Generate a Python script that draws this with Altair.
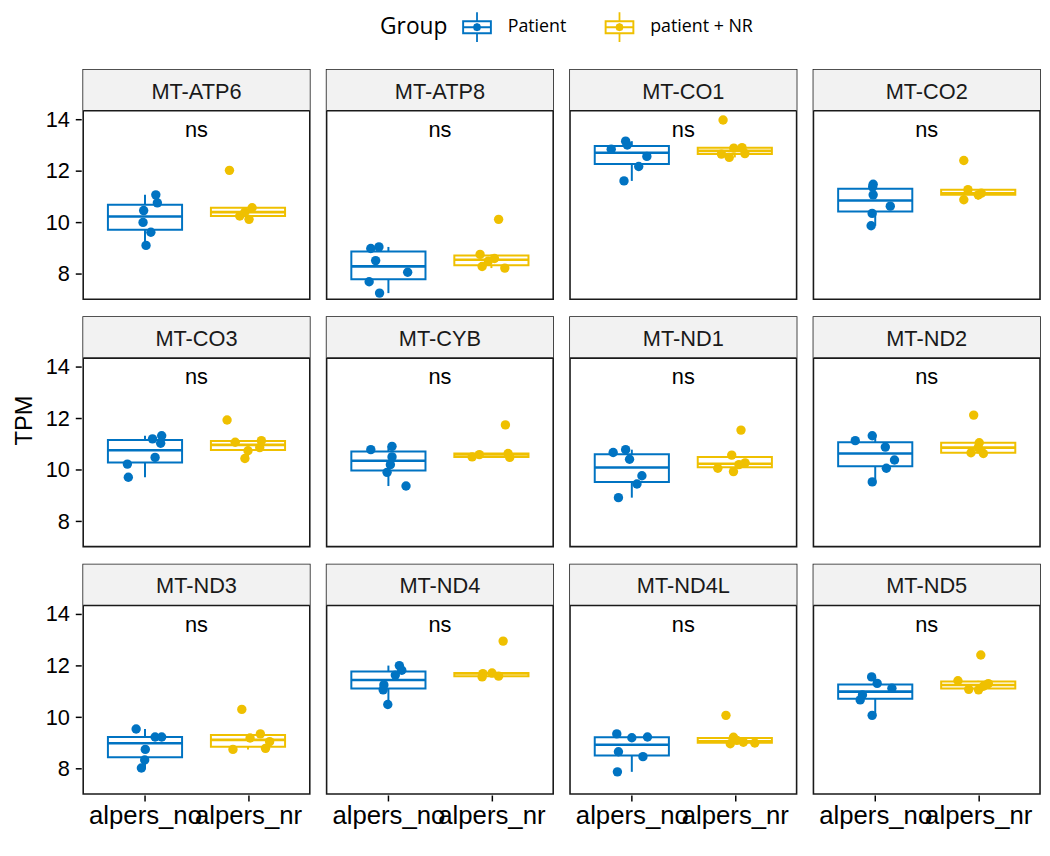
import altair as alt
import pandas as pd

# ---------------- data ----------------
GENES = ["MT-ATP6", "MT-ATP8", "MT-CO1", "MT-CO2",
         "MT-CO3", "MT-CYB", "MT-ND1", "MT-ND2",
         "MT-ND3", "MT-ND4", "MT-ND4L", "MT-ND5"]
GROUPS = ["alpers_no", "alpers_nr"]
LEGEND_LABELS = ["Patient", "patient + NR"]
COLORS = ["#0073C2", "#EFC000"]
SIGNIF = ["ns", "ns", "ns", "ns", "ns", "ns", "ns", "ns", "ns", "ns", "ns", "ns"]

# TPM, group alpers_no (Patient)
NO_TPM = [
    [11.07, 10.76, 10.46, 10.00, 9.62, 9.11],
    [8.99, 9.05, 8.52, 8.07, 7.70, 7.26],
    [13.15, 12.84, 12.56, 12.17, 11.61, 13.00],
    [11.48, 11.38, 11.07, 10.63, 10.35, 9.87],
    [11.32, 11.20, 11.03, 10.48, 10.22, 9.71],
    [10.78, 10.91, 10.50, 10.20, 9.90, 9.37],
    [10.67, 10.78, 10.41, 9.77, 9.45, 8.92],
    [11.13, 11.32, 10.88, 10.38, 10.06, 9.53],
    [9.54, 9.23, 9.23, 8.75, 8.34, 8.03],
    [12.00, 11.82, 11.63, 11.25, 11.06, 10.49],
    [9.35, 9.23, 8.66, 8.47, 7.88, 9.20],
    [11.56, 11.31, 11.12, 10.86, 10.67, 10.07],
]
# horizontal jitter of each point (category units)
NO_JITTER = [
    [0.105, 0.12, -0.013, -0.019, 0.057, 0.01],
    [-0.171, -0.092, -0.124, 0.187, -0.187, -0.086],
    [-0.06, -0.20, 0.146, 0.067, -0.076, -0.044],
    [-0.02, -0.025, -0.02, 0.146, -0.03, -0.04],
    [0.162, 0.073, 0.152, 0.098, -0.171, -0.162],
    [-0.171, 0.035, 0.035, 0.019, -0.013, 0.171],
    [-0.181, -0.06, -0.022, 0.098, 0.05, -0.13],
    [-0.194, -0.029, 0.098, 0.187, 0.108, -0.029],
    [-0.086, 0.098, 0.162, 0.003, -0.003, -0.035],
    [0.106, 0.13, 0.067, -0.044, -0.051, -0.006],
    [-0.146, 0.152, -0.13, 0.108, -0.14, 0.0],
    [-0.035, 0.019, 0.162, -0.124, -0.146, -0.03],
]
# TPM, group alpers_nr (patient + NR)
NR_TPM = [
    [12.02, 10.57, 10.25, 10.12, 10.40],
    [10.12, 8.76, 8.29, 8.23, 8.50, 8.60],
    [13.97, 12.90, 12.65, 12.52, 12.67, 12.88],
    [12.40, 11.27, 10.88, 11.07, 11.13],
    [11.93, 11.07, 11.13, 10.86, 10.44, 10.74],
    [11.74, 10.50, 10.59, 10.63, 10.48],
    [11.54, 10.57, 10.06, 9.93, 10.27, 10.20],
    [12.12, 11.05, 10.63, 10.66, 10.86],
    [10.30, 9.19, 9.35, 8.75, 8.79, 9.05],
    [12.95, 11.69, 11.71, 11.59, 11.56],
    [10.07, 9.22, 8.97, 9.03, 9.00, 9.10],
    [12.41, 11.41, 11.08, 11.06, 11.30, 11.20],
]
NR_JITTER = [
    [-0.18, 0.04, -0.08, 0.01, -0.03],
    [0.07, -0.11, -0.09, 0.13, -0.03, 0.03],
    [-0.114, 0.07, -0.13, -0.054, 0.098, -0.01],
    [-0.14, -0.10, -0.14, 0.0, 0.03],
    [-0.203, -0.124, 0.13, 0.114, -0.03, 0.0],
    [0.136, -0.187, -0.117, 0.162, 0.178],
    [0.06, -0.03, -0.165, -0.013, 0.10, 0.04],
    [-0.044, 0.01, 0.05, -0.07, 0.0],
    [-0.06, 0.02, 0.12, -0.146, 0.17, 0.21],
    [0.114, -0.083, 0.006, 0.07, -0.09],
    [-0.086, -0.013, -0.044, 0.083, 0.194, 0.02],
    [0.025, -0.197, -0.092, 0.003, 0.098, 0.05],
]

rows = []
for gi, gene in enumerate(GENES):
    for k, (vals, jits) in enumerate([(NO_TPM[gi], NO_JITTER[gi]),
                                       (NR_TPM[gi], NR_JITTER[gi])]):
        for v, j in zip(vals, jits):
            rows.append({"gene": gene, "group": GROUPS[k],
                         "label": LEGEND_LABELS[k], "pos": k + 1,
                         "tpm": v, "jit": j, "sig": SIGNIF[gi]})
df = pd.DataFrame(rows)

# ---------------- styling ----------------
FONT = "Liberation Sans"
Y_LO, Y_HI = 7.02, 15.92
STRIP_Y = 14.33
xscale = alt.Scale(domain=[0.4, 2.6], nice=False, zero=False)
yscale = alt.Scale(domain=[Y_LO, Y_HI], nice=False, zero=False)

xaxis = alt.Axis(values=[1, 2], labelExpr="datum.value == 1 ? 'alpers_no' : 'alpers_nr'",
                 title=None, grid=False, domain=False, tickSize=6, tickWidth=1.5,
                 tickColor="black", labelFontSize=26, labelFont=FONT, labelColor="black",
                 labelPadding=2, labelOverlap=False, labelFlush=False)
yaxis = alt.Axis(values=[8, 10, 12, 14], title=None, grid=False, domain=False,
                 tickSize=6, tickWidth=1.5, tickColor="black", labelFontSize=22,
                 labelFont=FONT, labelColor="black", labelPadding=6)


def XF(field):
    return alt.X(field, type="quantitative", scale=xscale, axis=xaxis)


def XD(v):
    return alt.XDatum(v, type="quantitative", scale=xscale, axis=xaxis)


def YF(field):
    return alt.Y(field, type="quantitative", scale=yscale, axis=yaxis)


def YD(v):
    return alt.YDatum(v, type="quantitative", scale=yscale, axis=yaxis)


# box outlines use a separate stroke scale (same colours, reversed domain order so
# that Vega-Lite does not merge it with the colour legend)
stroke_enc = alt.Stroke("label:N",
                        scale=alt.Scale(domain=LEGEND_LABELS[::-1], range=COLORS[::-1]),
                        legend=None)

# legend icon: box outline + median + whiskers + dot (filled path, nonzero rule)
ICON = ("M-1,-0.47H1V0.47H-1Z M-0.87,-0.34V0.34H0.87V-0.34Z "
        "M-0.87,-0.07H0.87V0.07H-0.87Z M-0.06,-1H0.06V-0.47H-0.06Z "
        "M-0.06,0.47H0.06V1H-0.06Z "
        "M0.28,0L0.2,0.2L0,0.28L-0.2,0.2L-0.28,0L-0.2,-0.2L0,-0.28L0.2,-0.2Z")

base = alt.Chart()
per_gene = base.transform_aggregate(n="count()", groupby=["gene", "sig"])

strip = per_gene.mark_rect(fill="#F2F2F2", strokeWidth=0).encode(
    x=XD(0.4), x2=alt.datum(2.6), y=YD(Y_HI), y2=alt.datum(STRIP_Y))
strip_line = per_gene.mark_rule(color="#1a1a1a", strokeWidth=1.6).encode(
    x=XD(0.4), x2=alt.datum(2.6), y=YD(STRIP_Y))
strip_text = per_gene.mark_text(fontSize=22, font=FONT, color="#1a1a1a",
                                baseline="alphabetic").encode(
    x=XD(1.5), y=YD(14.80), text="gene:N")
sig_text = per_gene.mark_text(fontSize=22, font=FONT, color="black",
                              baseline="alphabetic").encode(
    x=XD(1.5), y=YD(13.31), text="sig:N")

stats = (base
         .transform_joinaggregate(q1="q1(tpm)", q3="q3(tpm)", med="median(tpm)",
                                  groupby=["gene", "group"])
         .transform_calculate(lof="datum.q1 - 1.5 * (datum.q3 - datum.q1)",
                              hif="datum.q3 + 1.5 * (datum.q3 - datum.q1)")
         .transform_filter("datum.tpm >= datum.lof && datum.tpm <= datum.hif")
         .transform_aggregate(q1="min(q1)", q3="min(q3)", med="min(med)",
                              lo="min(tpm)", hi="max(tpm)", pos="min(pos)",
                              groupby=["gene", "group", "label"])
         .transform_calculate(xl="datum.pos - 0.36", xr="datum.pos + 0.36"))

whisker = stats.mark_rule(strokeWidth=2).encode(
    x=XF("pos"), y=YF("lo"), y2="hi", stroke=stroke_enc)
box = stats.mark_rect(fill="white", strokeWidth=2).encode(
    x=XF("xl"), x2="xr", y=YF("q1"), y2="q3", stroke=stroke_enc)
median = stats.mark_rule(strokeWidth=2.6).encode(
    x=XF("xl"), x2="xr", y=YF("med"), stroke=stroke_enc)

points = (base.transform_calculate(xv="datum.pos + datum.jit")
          .mark_circle(size=90, opacity=1)
          .encode(x=XF("xv"), y=YF("tpm"),
                  color=alt.Color("label:N",
                                  scale=alt.Scale(domain=LEGEND_LABELS, range=COLORS),
                                  legend=alt.Legend(
                                      title="Group", orient="none", legendX=300, legendY=-58,
                                      direction="horizontal", titleOrient="left",
                                      symbolType=ICON, symbolSize=900, symbolStrokeWidth=0,
                                      titleFontSize=23, labelFontSize=18,
                                      titleFont="Open Sans", labelFont="Open Sans",
                                      titleFontWeight="normal", titleColor="black",
                                      labelColor="black", columnPadding=38, labelOffset=16,
                                      titlePadding=14))))

layered = alt.layer(strip, strip_line, strip_text, sig_text, whisker, box, median, points,
                    data=df).properties(width=229, height=232)

chart = (layered
         .facet(facet=alt.Facet("gene:N", sort=GENES,
                                header=alt.Header(labels=False, title=None, labelFontSize=1,
                                                  labelExpr="''", labelPadding=0)),
                columns=4, spacing={"row": 15, "column": 13})
         .properties(title=alt.TitleParams("TPM", orient="left", anchor="middle", fontSize=24,
                                           fontWeight="normal", font=FONT, color="black",
                                           offset=8),
                     padding={"top": 0, "left": 5, "right": 0, "bottom": 0},
                     background="white")
         .configure_header(labels=False)
         .configure_view(stroke="#1a1a1a", strokeWidth=1.6))

chart.save("out.html", embed_options={"renderer": "svg", "actions": False})
